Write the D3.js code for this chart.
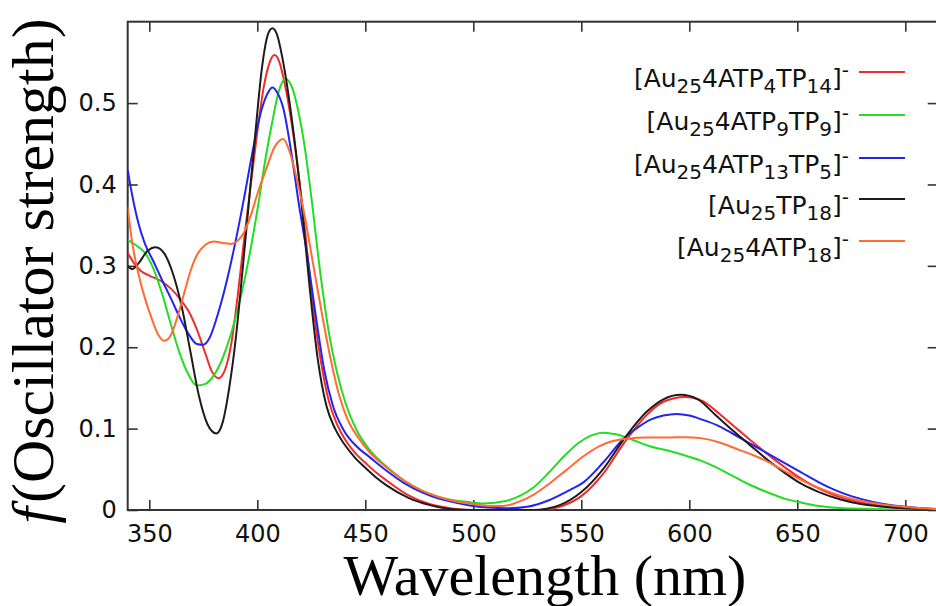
<!DOCTYPE html>
<html>
<head>
<meta charset="utf-8">
<script src="https://cdn.jsdelivr.net/npm/d3@7"></script>
<style>
  body { margin: 0; background: #fff; }
  svg { display: block; }
</style>
</head>
<body>
<div id="chart"></div>
<script>
var width = 936;
var height = 606;

// axis ticks
var xTicks = [350, 400, 450, 500, 550, 600, 650, 700];
var yTicks = [0, 0.1, 0.2, 0.3, 0.4, 0.5];
var yTickLabels = ["0", "0.1", "0.2", "0.3", "0.4", "0.5"];

// spectra: [wavelength nm, oscillator strength]
var au25_4ATP4TP14 = [
  [340, .316], [343, .303], [346, .294], [350, .288], [355, .282], [360, .272], [364, .260],
  [368, .245], [372, .222], [376, .192], [379, .170], [382, .162], [385, .172], [388, .205],
  [391, .265], [394, .335], [397, .400], [400, .465], [403, .520], [406, .552], [408, .559],
  [410, .552], [413, .520], [417, .455], [421, .370], [425, .270], [429, .190], [433, .135],
  [437, .105], [441, .085], [446, .068], [450, .058], [455, .046], [460, .036], [470, .018],
  [480, .007], [490, .002], [500, 0], [530, 0], [540, .004], [550, .017], [560, .044],
  [570, .083], [580, .116], [588, .133], [598, .139], [606, .134], [614, .118], [622, .100],
  [630, .082], [638, .065], [646, .049], [654, .035], [662, .024], [672, .014], [682, .008],
  [692, .004], [702, .002], [715, .001]
];

var au25_4ATP9TP9 = [
  [340, .332], [344, .325], [348, .316], [352, .296], [356, .265], [360, .228], [364, .193],
  [368, .167], [372, .153], [376, .155], [380, .166], [384, .187], [388, .218], [392, .258],
  [396, .308], [400, .368], [404, .435], [407, .478], [410, .515], [413, .530], [416, .520],
  [419, .490], [422, .445], [425, .385], [429, .295], [433, .220], [437, .168], [441, .130],
  [446, .098], [452, .074], [460, .053], [468, .036], [476, .024], [484, .016], [491, .012],
  [497, .010], [505, .008], [515, .011], [522, .018], [528, .028], [535, .046], [542, .066],
  [549, .083], [555, .092], [560, .095], [566, .093], [573, .087], [581, .079], [590, .073],
  [598, .067], [605, .061], [612, .053], [620, .042], [628, .031], [636, .022], [644, .014],
  [652, .009], [660, .005], [672, .002], [690, .001], [715, 0]
];

var au25_4ATP13TP5 = [
  [340, .418], [342, .388], [345, .352], [348, .327], [352, .305], [356, .282], [360, .260],
  [364, .237], [368, .217], [372, .204], [375, .203], [378, .212], [382, .243], [386, .283],
  [390, .331], [394, .385], [398, .443], [402, .492], [405, .513], [407, .519], [409, .514],
  [412, .494], [416, .435], [419, .380], [423, .315], [427, .240], [431, .172], [435, .128],
  [440, .098], [446, .078], [452, .065], [460, .048], [468, .033], [476, .022], [484, .014],
  [492, .009], [500, .005], [507, .003], [515, .002], [525, .004], [535, .012], [545, .025],
  [551, .034], [560, .058], [569, .086], [576, .101], [582, .111], [588, .116], [594, .118],
  [600, .116], [606, .111], [613, .104], [620, .094], [628, .082], [636, .070], [644, .058],
  [652, .046], [660, .034], [667, .025], [675, .017], [685, .010], [700, .004], [715, .001]
];

var au25_TP18 = [
  [340, .300], [342, .296], [345, .303], [349, .318], [353, .323], [357, .315], [361, .290],
  [365, .250], [369, .195], [373, .140], [377, .105], [381, .094], [384, .108], [387, .150],
  [390, .210], [393, .290], [396, .375], [399, .460], [402, .540], [405, .585], [407, .592],
  [409, .585], [412, .550], [416, .480], [420, .390], [424, .280], [428, .185], [432, .128],
  [436, .100], [440, .082], [445, .065], [450, .052], [455, .040], [460, .030], [470, .015],
  [480, .006], [490, .001], [500, 0], [528, 0], [540, .006], [550, .022], [560, .050],
  [570, .088], [580, .120], [588, .136], [596, .1415], [604, .136], [612, .117], [620, .098],
  [628, .080], [636, .062], [644, .046], [652, .032], [660, .022], [670, .013], [680, .007],
  [690, .004], [700, .002], [715, .001]
];

var au25_4ATP18 = [
  [340, .372], [342, .330], [345, .290], [348, .260], [351, .236], [354, .216], [357, .208],
  [360, .215], [363, .237], [366, .265], [369, .293], [372, .313], [376, .326], [380, .330],
  [384, .328], [388, .327], [391, .331], [394, .342], [397, .362], [400, .388], [404, .418],
  [408, .446], [412, .456], [415, .440], [418, .410], [422, .360], [426, .300], [430, .240],
  [434, .185], [438, .140], [442, .110], [447, .088], [452, .071], [460, .052], [468, .036],
  [476, .024], [484, .016], [491, .011], [498, .008], [507, .005], [514, .005], [520, .009],
  [528, .019], [535, .032], [543, .049], [551, .066], [558, .078], [565, .085], [572, .088],
  [580, .089], [590, .089], [598, .0895], [606, .088], [614, .083], [622, .075], [630, .067],
  [638, .057], [646, .045], [654, .034], [662, .025], [672, .016], [682, .010], [692, .006],
  [703, .003], [715, .001]
];

var seriesData = [au25_4ATP4TP14, au25_4ATP9TP9, au25_4ATP13TP5, au25_TP18, au25_4ATP18];
var seriesColors = ["#f22a2a", "#22dd22", "#2424f2", "#1c1c1c", "#ff6b33"];

// legend labels: [text, kind]  n = normal, sub = subscript, sup = superscript
var seriesLabels = [
  [["[Au", "n"], ["25", "sub"], ["4ATP", "n"], ["4", "sub"], ["TP", "n"], ["14", "sub"], ["]", "n"], ["-", "sup"]],
  [["[Au", "n"], ["25", "sub"], ["4ATP", "n"], ["9", "sub"], ["TP", "n"], ["9", "sub"], ["]", "n"], ["-", "sup"]],
  [["[Au", "n"], ["25", "sub"], ["4ATP", "n"], ["13", "sub"], ["TP", "n"], ["5", "sub"], ["]", "n"], ["-", "sup"]],
  [["[Au", "n"], ["25", "sub"], ["TP", "n"], ["18", "sub"], ["]", "n"], ["-", "sup"]],
  [["[Au", "n"], ["25", "sub"], ["4ATP", "n"], ["18", "sub"], ["]", "n"], ["-", "sup"]]
];
var legendRows = [72, 115, 158, 199, 241];

var plotLeft = 127.7, plotRight = 937.7, plotTop = 21.7, plotBottom = 510;

var svg = d3.select('#chart')
    .append('svg')
    .attr('width', width)
    .attr('height', height);

var x = d3.scaleLinear().domain([340, 715]).range([plotLeft, plotRight]);
var y = d3.scaleLinear().domain([0, 0.6]).range([plotBottom, plotTop]);

svg.append('clipPath').attr('id', 'plotclip')
    .append('rect')
    .attr('x', plotLeft).attr('y', plotTop)
    .attr('width', plotRight - plotLeft).attr('height', plotBottom - plotTop);

var tickFont = "'DejaVu Sans', Verdana, sans-serif";

// bottom axis (ticks pointing inwards)
svg.append('g')
    .attr('transform', 'translate(0,' + plotBottom + ')')
    .call(d3.axisBottom(x).tickValues(xTicks).tickSizeInner(-10).tickSizeOuter(0).tickPadding(15));

// top mirror ticks
svg.append('g')
    .attr('transform', 'translate(0,' + plotTop + ')')
    .call(d3.axisTop(x).tickValues(xTicks).tickSizeInner(-10).tickSizeOuter(0).tickFormat(''));

// left axis
svg.append('g')
    .attr('transform', 'translate(' + plotLeft + ',0)')
    .call(d3.axisLeft(y).tickValues(yTicks).tickSizeInner(-10).tickSizeOuter(0).tickPadding(11)
        .tickFormat(function (d, i) { return yTickLabels[i]; }));

// right mirror ticks
svg.append('g')
    .attr('transform', 'translate(' + plotRight + ',0)')
    .call(d3.axisRight(y).tickValues(yTicks).tickSizeInner(-10).tickSizeOuter(0).tickFormat(''));

svg.selectAll('.domain').remove();
svg.selectAll('.tick line').attr('stroke', '#333').attr('stroke-width', 1.6);
svg.selectAll('.tick text')
    .attr('fill', '#111')
    .style('font-family', tickFont)
    .style('font-size', '24px');

// frame
svg.append('rect')
    .attr('x', plotLeft).attr('y', plotTop)
    .attr('width', plotRight - plotLeft).attr('height', plotBottom - plotTop)
    .attr('fill', 'none')
    .attr('stroke', '#333')
    .attr('stroke-width', 2);

var line = d3.line()
    .x(function (d) { return x(d[0]); })
    .y(function (d) { return y(d[1]); })
    .curve(d3.curveMonotoneX);

var g = svg.append('g').attr('clip-path', 'url(#plotclip)');

g.selectAll('path')
    .data(seriesData)
    .enter()
    .append('path')
    .attr('fill', 'none')
    .attr('stroke', function (d, i) { return seriesColors[i]; })
    .attr('stroke-width', 2)
    .attr('stroke-linejoin', 'round')
    .attr('d', line);

// legend
var legend = svg.append('g');
seriesLabels.forEach(function (parts, i) {
    var ly = legendRows[i];
    legend.append('line')
        .attr('x1', 859).attr('x2', 905)
        .attr('y1', ly).attr('y2', ly)
        .attr('stroke', seriesColors[i])
        .attr('stroke-width', 2);

    var t = legend.append('text')
        .attr('x', 849).attr('y', ly + 15)
        .attr('text-anchor', 'end')
        .attr('fill', '#111')
        .style('font-family', tickFont)
        .style('font-size', '25px');

    var shift = 0;
    parts.forEach(function (p) {
        var target = p[1] === 'sub' ? 6 : (p[1] === 'sup' ? -10 : 0);
        t.append('tspan')
            .attr('dy', target - shift)
            .style('font-size', p[1] === 'n' ? '25px' : '20px')
            .text(p[0]);
        shift = target;
    });
});

// axis titles
svg.append('text')
    .attr('x', 545).attr('y', 595)
    .attr('text-anchor', 'middle')
    .attr('fill', '#000')
    .style('font-family', "'Liberation Serif', 'Times New Roman', serif")
    .style('font-size', '58px')
    .text('Wavelength (nm)');

var ytitle = svg.append('text')
    .attr('transform', 'translate(53,271) rotate(-90)')
    .attr('text-anchor', 'middle')
    .attr('fill', '#000')
    .style('font-family', "'Liberation Serif', 'Times New Roman', serif")
    .style('font-size', '60px');
ytitle.append('tspan').style('font-style', 'italic').text('f');
ytitle.append('tspan').attr('dx', 4).text('(Oscillator strength)');
</script>
</body>
</html>
